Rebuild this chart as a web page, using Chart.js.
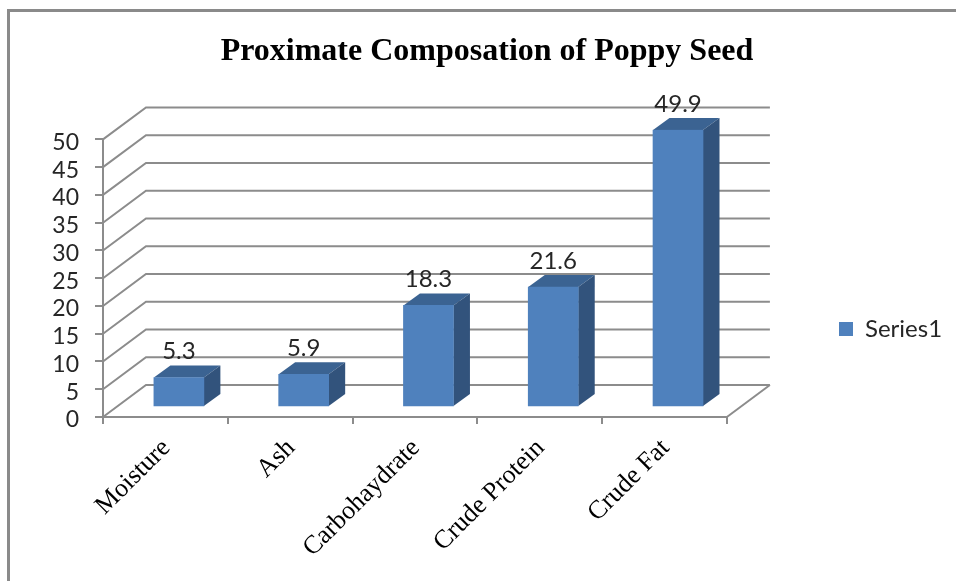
<!DOCTYPE html>
<html lang="en">
<head>
    <meta charset="UTF-8">
    <title>Proximate Composation of Poppy Seed</title>
    <script src="https://cdn.jsdelivr.net/npm/chart.js"></script>
    <style>
        body {
            margin: 0;
            background: white;
            overflow: hidden;
        }
        .frame {
            position: absolute;
            left: 7px;
            top: 9px;
            right: -5px;
            bottom: -5px;
            border-top: 3px solid #8a8a8a;
            border-left: 3px solid #8a8a8a;
        }
        canvas {
            position: absolute;
            left: 0;
            top: 0;
        }
    </style>
</head>
<body>
    <div class="frame"></div>
    <canvas id="poppyChart" width="956" height="581"></canvas>

    <script>
    const categories = ['Moisture', 'Ash', 'Carbohaydrate', 'Crude Protein', 'Crude Fat'];
    const seriesValues = [5.3, 5.9, 18.3, 21.6, 49.9];
    const seriesName = 'Series1';
    const chartTitle = 'Proximate Composation of Poppy Seed';

    const gridColor = '#8c8c8c';
    const textColor = '#262626';
    const sansFont = 'Lato';
    const serifFont = '"Liberation Serif"';

    // depth of the fake 3D box, back wall and bar
    const wallDx = 43, wallDy = -32;
    const barShiftX = 13.5, barShiftY = -10;
    const barDx = 16.5, barDy = -12;

    const threeD = {
        id: 'threeD',
        afterLayout(chart) {
            // title and legend do not sit where chart.js would put them
            chart.titleBlock.left = 18;
            chart.titleBlock.right = 956;
            const legend = chart.legend;
            const shift = 329 - (legend.top + legend.bottom) / 2;
            legend.top += shift;
            legend.bottom += shift;
            legend.left = 829;
            legend.right = 956;
        },
        beforeDatasetsDraw(chart) {
            const { ctx, scales: { x, y } } = chart;
            const left = x.left, right = x.right, bottom = y.bottom;

            ctx.save();
            ctx.strokeStyle = gridColor;
            ctx.lineWidth = 2;
            y.ticks.forEach(t => {
                const py = y.getPixelForValue(t.value);
                ctx.beginPath();
                ctx.moveTo(left, py);
                ctx.lineTo(left + wallDx, py + wallDy);
                ctx.lineTo(right + wallDx, py + wallDy);
                ctx.stroke();
            });
            // floor edge on the right
            ctx.beginPath();
            ctx.moveTo(right, bottom);
            ctx.lineTo(right + wallDx, bottom + wallDy);
            ctx.stroke();

            // bars sit partway into the box
            ctx.translate(barShiftX, barShiftY);
            chart.getDatasetMeta(0).data.forEach(bar => {
                const l = bar.x - bar.width / 2, r = bar.x + bar.width / 2;
                ctx.fillStyle = '#3b6392';
                ctx.beginPath();
                ctx.moveTo(l, bar.y);
                ctx.lineTo(l + barDx, bar.y + barDy);
                ctx.lineTo(r + barDx, bar.y + barDy);
                ctx.lineTo(r, bar.y);
                ctx.closePath();
                ctx.fill();
                ctx.fillStyle = '#32537c';
                ctx.beginPath();
                ctx.moveTo(r, bar.y);
                ctx.lineTo(r + barDx, bar.y + barDy);
                ctx.lineTo(r + barDx, bar.base + barDy);
                ctx.lineTo(r, bar.base);
                ctx.closePath();
                ctx.fill();
            });
        },
        afterDatasetsDraw(chart) {
            const { ctx } = chart;
            ctx.fillStyle = textColor;
            ctx.font = '24px ' + sansFont;
            ctx.textAlign = 'center';
            ctx.textBaseline = 'middle';
            chart.getDatasetMeta(0).data.forEach((bar, i) => {
                ctx.fillText(seriesValues[i], bar.x, bar.y - 26);
            });
            ctx.restore();
        }
    };

    new Chart(document.getElementById('poppyChart'), {
        type: 'bar',
        data: {
            labels: categories,
            datasets: [{
                label: seriesName,
                data: seriesValues,
                backgroundColor: '#4f81bd',
                borderWidth: 0,
                barThickness: 50
            }]
        },
        options: {
            responsive: false,
            animation: false,
            layout: { padding: { right: 106 } },
            plugins: {
                title: {
                    display: true,
                    text: chartTitle,
                    color: 'black',
                    font: { family: serifFont, size: 32, weight: 'bold' },
                    padding: { top: 33, bottom: 68 }
                },
                legend: {
                    display: true,
                    position: 'right',
                    labels: {
                        color: textColor,
                        boxWidth: 14,
                        boxHeight: 14,
                        font: { family: sansFont, size: 24 }
                    }
                },
                tooltip: { enabled: false }
            },
            scales: {
                x: {
                    afterFit: s => { s.height = 164; },
                    grid: { drawOnChartArea: false, color: gridColor, lineWidth: 2, tickLength: 7, offset: true },
                    border: { color: gridColor, width: 2 },
                    ticks: {
                        color: 'black',
                        maxRotation: 45,
                        minRotation: 45,
                        padding: 9,
                        labelOffset: 1,
                        font: { family: serifFont, size: 26 }
                    }
                },
                y: {
                    min: 0,
                    max: 50,
                    afterFit: s => { s.width = 103; },
                    grid: { drawOnChartArea: false, color: gridColor, lineWidth: 2, tickLength: 8 },
                    border: { color: gridColor, width: 2 },
                    ticks: {
                        stepSize: 5,
                        autoSkip: false,
                        color: textColor,
                        padding: 16,
                        labelOffset: 3,
                        font: { family: sansFont, size: 23 }
                    }
                }
            }
        },
        plugins: [threeD]
    });
    </script>
</body>
</html>
